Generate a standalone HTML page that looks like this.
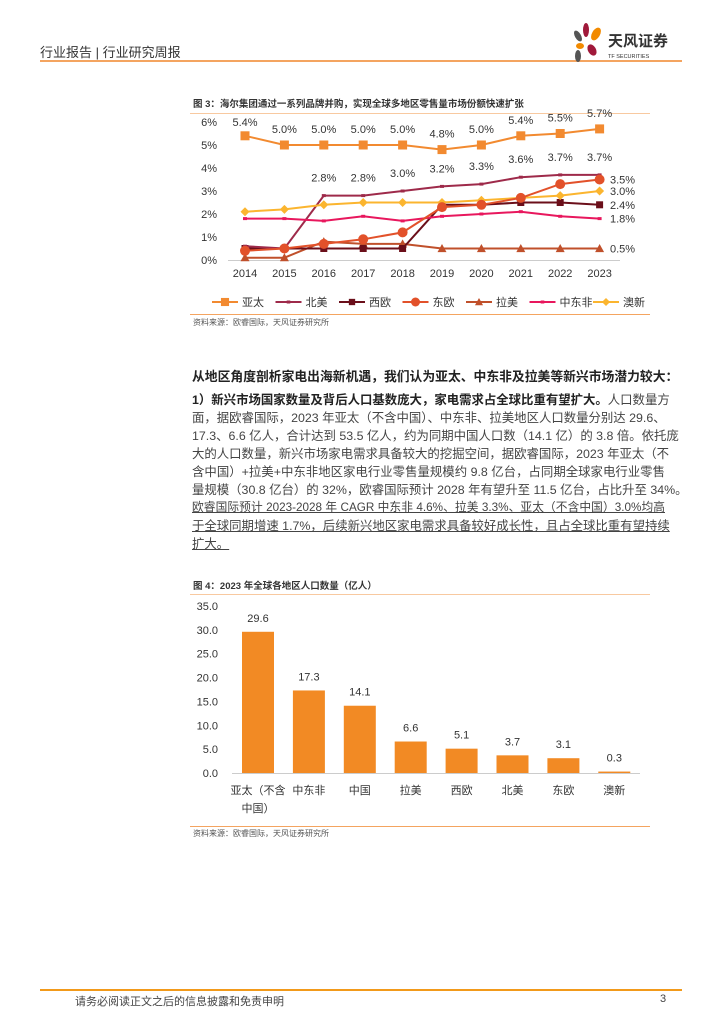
<!DOCTYPE html>
<html><head><meta charset="utf-8"><style>
body{margin:0;width:724px;height:1024px;background:#fff;position:relative;overflow:hidden;font-family:"Liberation Sans","Noto Sans CJK SC",sans-serif;color:#222}
.abs{position:absolute}
.ln{position:absolute;left:192px;width:473px;font-size:12.4px;line-height:18px;text-align:justify;text-align-last:justify;white-space:nowrap;color:#444}
.u{text-decoration:underline}
</style></head><body>
<div class="abs" style="left:40px;top:42px;font-size:13px;color:#333">行业报告 | 行业研究周报</div>
<div class="abs" style="left:40px;top:60px;width:642px;height:2px;background:#f4a460"></div>
<div class="abs" style="left:572px;top:22px;width:110px;height:42px">
<svg width="110" height="42"><ellipse cx="6" cy="14" rx="3" ry="6" fill="#555" transform="rotate(-30 6 14)"/><ellipse cx="14" cy="8" rx="3" ry="7" fill="#a0193a"/><ellipse cx="24" cy="12" rx="4" ry="7" fill="#f28a00" transform="rotate(30 24 12)"/><ellipse cx="8" cy="24" rx="4" ry="3" fill="#f28a00"/><ellipse cx="20" cy="28" rx="4" ry="6" fill="#a0193a" transform="rotate(-30 20 28)"/><ellipse cx="6" cy="34" rx="3" ry="6" fill="#555"/>
<text x="36" y="24" font-size="15" font-weight="bold" fill="#333" font-family="Liberation Sans,Noto Sans CJK SC,sans-serif">天风证券</text><text x="36" y="36" font-size="5.5" fill="#333" font-family="Liberation Sans,sans-serif">TF SECURITIES</text></svg></div>

<div class="abs" style="left:193px;top:96px;font-size:9.5px;font-weight:bold;color:#333">图 3：海尔集团通过一系列品牌并购，实现全球多地区零售量市场份额快速扩张</div>
<div class="abs" style="left:190px;top:113px;width:460px;height:1px;background:#f8c9a0"></div>
<svg class="abs" style="left:0;top:0" width="724" height="340" id="c1"></svg>
<div class="abs" style="left:190px;top:314px;width:460px;height:1px;background:#f4a460"></div>
<div class="abs" style="left:193px;top:317px;font-size:8px;color:#555">资料来源：欧睿国际，天风证券研究所</div>

<div class="abs" style="left:192px;top:366px;width:473px;font-size:12.8px;font-weight:bold;white-space:nowrap;text-align:justify;text-align-last:justify;color:#222">从地区角度剖析家电出海新机遇，我们认为亚太、中东非及拉美等新兴市场潜力较大：</div>
<div>
<div class="ln" style="top:391px"><b style="color:#222">1）新兴市场国家数量及背后人口基数庞大，家电需求占全球比重有望扩大。</b>人口数量方</div>
<div class="ln" style="top:409px">面，据欧睿国际，2023 年亚太（不含中国）、中东非、拉美地区人口数量分别达 29.6、</div>
<div class="ln" style="top:427px">17.3、6.6 亿人，合计达到 53.5 亿人，约为同期中国人口数（14.1 亿）的 3.8 倍。依托庞</div>
<div class="ln" style="top:445px">大的人口数量，新兴市场家电需求具备较大的挖掘空间，据欧睿国际，2023 年亚太（不</div>
<div class="ln" style="top:463px">含中国）+拉美+中东非地区家电行业零售量规模约 9.8 亿台，占同期全球家电行业零售</div>
<div class="ln" style="top:481px">量规模（30.8 亿台）的 32%，欧睿国际预计 2028 年有望升至 11.5 亿台，占比升至 34%。</div>
<div class="ln u" style="top:499px;font-size:11.7px">欧睿国际预计 2023-2028 年 CAGR 中东非 4.6%、拉美 3.3%、亚太（不含中国）3.0%均高</div>
<div class="ln u" style="top:517px">于全球同期增速 1.7%，后续新兴地区家电需求具备较好成长性，且占全球比重有望持续</div>
<div class="ln u" style="top:535px;text-align-last:left;width:auto">扩大。</div>
</div>

<div class="abs" style="left:193px;top:578px;font-size:9.5px;font-weight:bold;color:#333">图 4：2023 年全球各地区人口数量（亿人）</div>
<div class="abs" style="left:190px;top:594px;width:460px;height:1px;background:#f8c9a0"></div>
<svg class="abs" style="left:0;top:595px" width="724" height="230" id="c2"></svg>
<div class="abs" style="left:190px;top:826px;width:460px;height:1px;background:#f4a460"></div>
<div class="abs" style="left:193px;top:828px;font-size:8px;color:#555">资料来源：欧睿国际，天风证券研究所</div>

<div class="abs" style="left:40px;top:989px;width:642px;height:2px;background:#f29a1a"></div>
<div class="abs" style="left:75px;top:993px;font-size:11px;color:#444">请务必阅读正文之后的信息披露和免责申明</div>
<div class="abs" style="left:660px;top:993px;font-size:11px;color:#444">3</div>

<script>
const years=["2014","2015","2016","2017","2018","2019","2020","2021","2022","2023"];
const yTicks=[0,1,2,3,4,5,6];
const apac=[5.4,5.0,5.0,5.0,5.0,4.8,5.0,5.4,5.5,5.7];
const northAm=[0.6,0.5,2.8,2.8,3.0,3.2,3.3,3.6,3.7,3.7];
const westEu=[0.5,0.5,0.5,0.5,0.5,2.4,2.4,2.5,2.5,2.4];
const eastEu=[0.4,0.5,0.7,0.9,1.2,2.3,2.4,2.7,3.3,3.5];
const latAm=[0.1,0.1,0.8,0.7,0.7,0.5,0.5,0.5,0.5,0.5];
const mea=[1.8,1.8,1.7,1.9,1.7,1.9,2.0,2.1,1.9,1.8];
const anz=[2.1,2.2,2.4,2.5,2.5,2.5,2.6,2.7,2.8,3.0];
const seriesNames=["亚太","北美","西欧","东欧","拉美","中东非","澳新"];

const popCats=["亚太（不含|中国）","中东非","中国","拉美","西欧","北美","东欧","澳新"];
const popVals=[29.6,17.3,14.1,6.6,5.1,3.7,3.1,0.3];
const popTicks=[0,5,10,15,20,25,30,35];

const NS="http://www.w3.org/2000/svg";
function mk(p,t,a){const e=document.createElementNS(NS,t);for(const k in a)e.setAttribute(k,a[k]);p.appendChild(e);return e;}
function txt(p,x,y,s,o){const e=mk(p,"text",Object.assign({x:x,y:y,"font-size":11,fill:"#333","font-family":"Liberation Sans,Noto Sans CJK SC,sans-serif"},o||{}));e.textContent=s;return e;}

const c1=document.getElementById("c1");
const X=i=>245+i*39.4, Y=v=>260-v*23;
mk(c1,"line",{x1:228,x2:620,y1:260.5,y2:260.5,stroke:"#ccc"});
yTicks.forEach(t=>{const e=txt(c1,217,Y(t)+4,t+"%",{"text-anchor":"end"});});
years.forEach((y,i)=>{const e=txt(c1,X(i),277,y,{"text-anchor":"middle"});});
const styles=[
 {d:apac,c:"#f28a30",m:"sq",s:4.5},
 {d:northAm,c:"#9e2a4a",m:"dash",s:2},
 {d:westEu,c:"#6b0f1a",m:"sq",s:3.5},
 {d:eastEu,c:"#e2512a",m:"circ",s:5},
 {d:latAm,c:"#c0502b",m:"tri",s:4.5},
 {d:mea,c:"#e8175d",m:"dash",s:2},
 {d:anz,c:"#fbb52f",m:"dia",s:4.5}];
function marker(p,m,x,y,s,c){
 if(m=="sq")return mk(p,"rect",{x:x-s,y:y-s,width:2*s,height:2*s,fill:c});
 if(m=="circ")return mk(p,"circle",{cx:x,cy:y,r:s,fill:c});
 if(m=="tri")return mk(p,"polygon",{points:`${x},${y-s} ${x-s},${y+s*0.8} ${x+s},${y+s*0.8}`,fill:c});
 if(m=="dia")return mk(p,"polygon",{points:`${x},${y-s} ${x+s},${y} ${x},${y+s} ${x-s},${y}`,fill:c});
 return mk(p,"rect",{x:x-s,y:y-1.5,width:2*s,height:3,fill:c});
}
const order=[4,2,1,5,6,3,0];
order.forEach(k=>{const st=styles[k];
 const pl=mk(c1,"polyline",{points:st.d.map((v,i)=>X(i)+","+Y(v)).join(" "),fill:"none",stroke:st.c,"stroke-width":2});
 
 st.d.forEach((v,i)=>{const m=marker(c1,st.m,X(i),Y(v),st.s,st.c);});
});
apac.forEach((v,i)=>{const e=txt(c1,X(i),Y(v)-(i==0?10:12),v.toFixed(1)+"%",{"text-anchor":"middle"});});
northAm.forEach((v,i)=>{if(i<2)return;const e=txt(c1,X(i),Y(v)-14,v.toFixed(1)+"%",{"text-anchor":"middle"});});
[eastEu,anz,westEu,mea,latAm].forEach(d=>{const v=d[9];const e=txt(c1,610,Y(v)+4,v.toFixed(1)+"%");});
seriesNames.forEach((n,k)=>{const lx=212+k*63.5,ly=302;const st=styles[k];
 const l=mk(c1,"line",{x1:lx,x2:lx+26,y1:ly,y2:ly,stroke:st.c,"stroke-width":2});
 const m=marker(c1,st.m,lx+13,ly,st.s*0.9,st.c);
 const t=txt(c1,lx+30,ly+4,n);});

const c2=document.getElementById("c2");
const BX=i=>258+i*50.9, BY=v=>178-v*4.771;
mk(c2,"line",{x1:232,x2:640,y1:178.5,y2:178.5,stroke:"#ccc"});
popTicks.forEach(t=>{const e=txt(c2,218,BY(t)+4,t.toFixed(1),{"text-anchor":"end"});});
popVals.forEach((v,i)=>{
 const r=mk(c2,"rect",{x:BX(i)-16,y:BY(v),width:32,height:178-BY(v),fill:"#f28a24"});
 
 const t=txt(c2,BX(i),BY(v)-10,v.toFixed(1),{"text-anchor":"middle"});
 
 popCats[i].split("|").forEach((s,j)=>{const e=txt(c2,BX(i),199+j*18,s,{"text-anchor":"middle"});});
});
</script>
</body></html>
